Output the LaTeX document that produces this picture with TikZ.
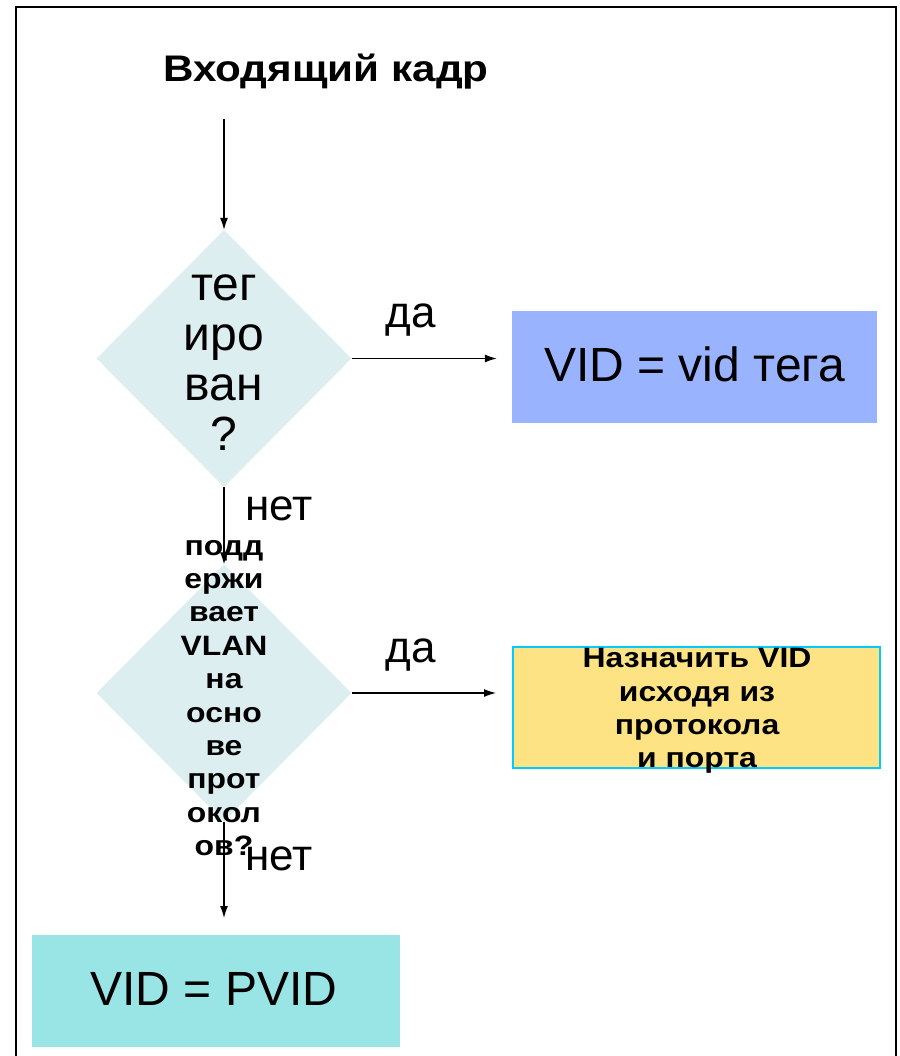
\documentclass[tikz,border=0pt]{standalone}
\usepackage{fontspec}
\setmainfont{Liberation Sans}
\newfontfamily\wideboldfont{Liberation Sans Bold}[FakeStretch=1.14]
\usetikzlibrary{shapes.geometric,arrows.meta}
\definecolor{decisionfill}{HTML}{DDEEF0}
\definecolor{tagfill}{HTML}{99B3FF}
\definecolor{protofill}{HTML}{FDE383}
\definecolor{protoline}{HTML}{00CCFF}
\definecolor{pvidfill}{HTML}{99E5E6}
\begin{document}
\begin{tikzpicture}[x=1pt,y=-1pt,
  decision/.style={diamond,fill=decisionfill,draw=none,inner sep=0pt,
    minimum width=255pt,minimum height=257pt},
  result/.style={rectangle,inner sep=0pt,draw=none},
  bigtext/.style={font=\fontsize{48}{50}\selectfont,inner sep=0pt},
  boldtext/.style={font=\fontsize{28}{33.4}\selectfont\wideboldfont,inner sep=0pt,align=center},
  answer/.style={font=\fontsize{44}{48}\selectfont,inner sep=0pt,anchor=base},
  flow/.style={line width=1.2pt,-{Latex[length=12pt,width=8pt]}}]
\useasboundingbox (0,0) rectangle (899,1056);
% open frame round the chart
\draw[line width=2.5pt] (16,1056) -- (16,7) -- (896,7) -- (896,1056);

% title
\node[font=\fontsize{37}{40}\selectfont\wideboldfont,inner sep=0pt,anchor=base] (title) at (326,82) {Входящий кадр};
\coordinate (start) at (224,119);

% decisions
\node[decision] (d1) at (224,358.5) {};
\node[decision] (d2) at (224,693) {};
\node[bigtext,align=center] (t1) at (224,363) {тег\\иро\\ван\\?};
\node[boldtext] (t2) at (224,698) {подд\\ержи\\вает\\VLAN\\на\\осно\\ве\\прот\\окол\\ов?};

% results
\node[result,fill=tagfill,minimum width=365pt,minimum height=112pt] (b1) at (694.5,367) {};
\node[bigtext] at (694.5,364.5) {VID = vid тега};
\node[result,fill=protofill,draw=protoline,line width=2pt,minimum width=367pt,minimum height=121pt] (b2) at (696.5,707.5) {};
\node[boldtext] at (697,711) {Назначить VID\\исходя из\\протокола\\и порта};
\node[result,fill=pvidfill,minimum width=368pt,minimum height=112pt] (b3) at (216,991) {};
\node[bigtext] at (214,989) {VID = PVID};
\coordinate (end3) at (224,918);

% connectors
\draw[flow] (start) -- (d1.north);
\draw[flow,shorten >=15pt] (d1.east) -- (b1.west |- d1.east);
\draw[flow] (d1.south) -- (d2.north);
\draw[flow,shorten >=16pt] (d2.east) -- (b2.west |- d2.east);
\draw[flow] (d2.south) -- (end3);

% branch labels
\node[answer] at (411,327) {да};
\node[answer] at (411,662) {да};
\node[answer] at (279,520) {нет};
\node[answer] at (279,870) {нет};
\end{tikzpicture}
\end{document}
